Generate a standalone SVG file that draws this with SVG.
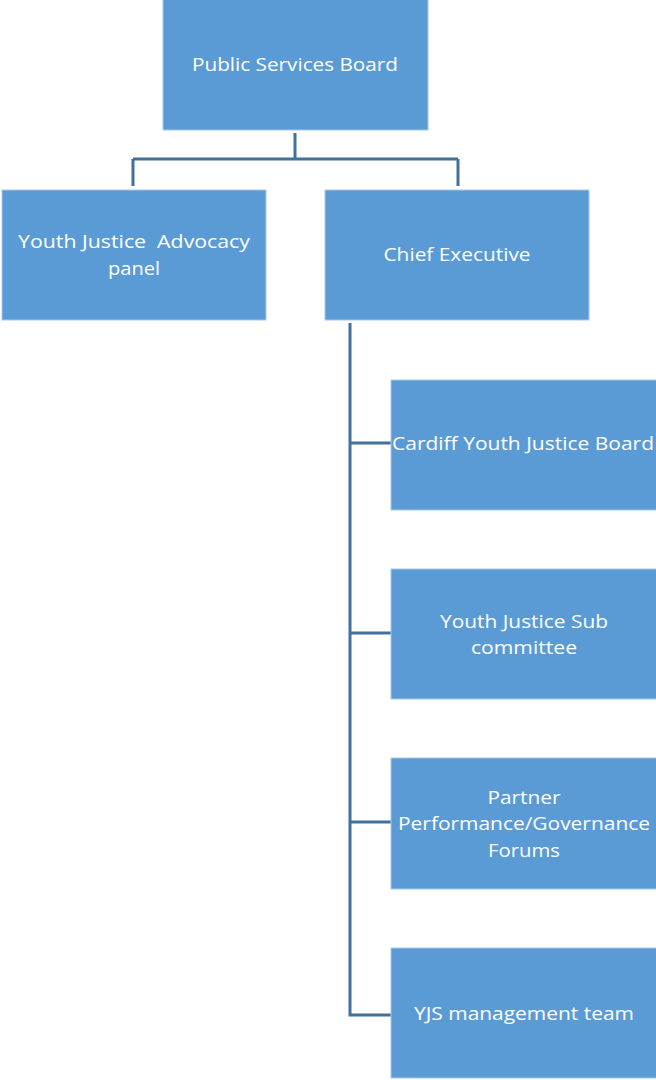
<svg xmlns="http://www.w3.org/2000/svg" width="656" height="1080" viewBox="0 0 656 1080">
<style>
.box{fill:#5B9BD5;stroke:#A9C8E8;stroke-width:1}
.t{fill:#FFFFFF;font-family:"Open Sans","Liberation Sans",Arial,sans-serif;font-size:19px;text-anchor:middle}
.c{fill:none;stroke:#41719C;stroke-width:3}
</style>
<rect width="656" height="1080" fill="#FFFFFF"/>
<g id="connectors">
<path class="c" d="M295,133 V159 M133,159 H458 M133,159 V186 M458,159 V186"/>
<path class="c" d="M350,323 V1015 H391 M350,443 H391 M350,633 H391 M350,822 H391"/>
</g>
<g id="public-services-board">
<rect class="box" x="163" y="-1" width="265" height="131"/>
<text class="t" x="295" y="71" textLength="206" lengthAdjust="spacingAndGlyphs">Public Services Board</text>
</g>
<g id="youth-justice-advocacy-panel">
<rect class="box" x="2" y="190" width="264" height="130"/>
<text class="t" x="134" y="248" textLength="232" lengthAdjust="spacingAndGlyphs" xml:space="preserve">Youth Justice  Advocacy</text>
<text class="t" x="134" y="275" textLength="52" lengthAdjust="spacingAndGlyphs">panel</text>
</g>
<g id="chief-executive">
<rect class="box" x="325" y="190" width="264" height="130"/>
<text class="t" x="457" y="261" textLength="147" lengthAdjust="spacingAndGlyphs">Chief Executive</text>
</g>
<g id="cardiff-youth-justice-board">
<rect class="box" x="391" y="380" width="266" height="130"/>
<text class="t" x="523" y="450" textLength="262" lengthAdjust="spacingAndGlyphs">Cardiff Youth Justice Board</text>
</g>
<g id="youth-justice-sub-committee">
<rect class="box" x="391" y="569" width="266" height="130"/>
<text class="t" x="524" y="628" textLength="168" lengthAdjust="spacingAndGlyphs">Youth Justice Sub</text>
<text class="t" x="524" y="654" textLength="106" lengthAdjust="spacingAndGlyphs">committee</text>
</g>
<g id="partner-forums">
<rect class="box" x="391" y="758" width="266" height="131"/>
<text class="t" x="524" y="804" textLength="73" lengthAdjust="spacingAndGlyphs">Partner</text>
<text class="t" x="524" y="830" textLength="252" lengthAdjust="spacingAndGlyphs">Performance/Governance</text>
<text class="t" x="524" y="857" textLength="72" lengthAdjust="spacingAndGlyphs">Forums</text>
</g>
<g id="yjs-management-team">
<rect class="box" x="391" y="948" width="266" height="130"/>
<text class="t" x="524" y="1020" textLength="220" lengthAdjust="spacingAndGlyphs">YJS management team</text>
</g>
</svg>
